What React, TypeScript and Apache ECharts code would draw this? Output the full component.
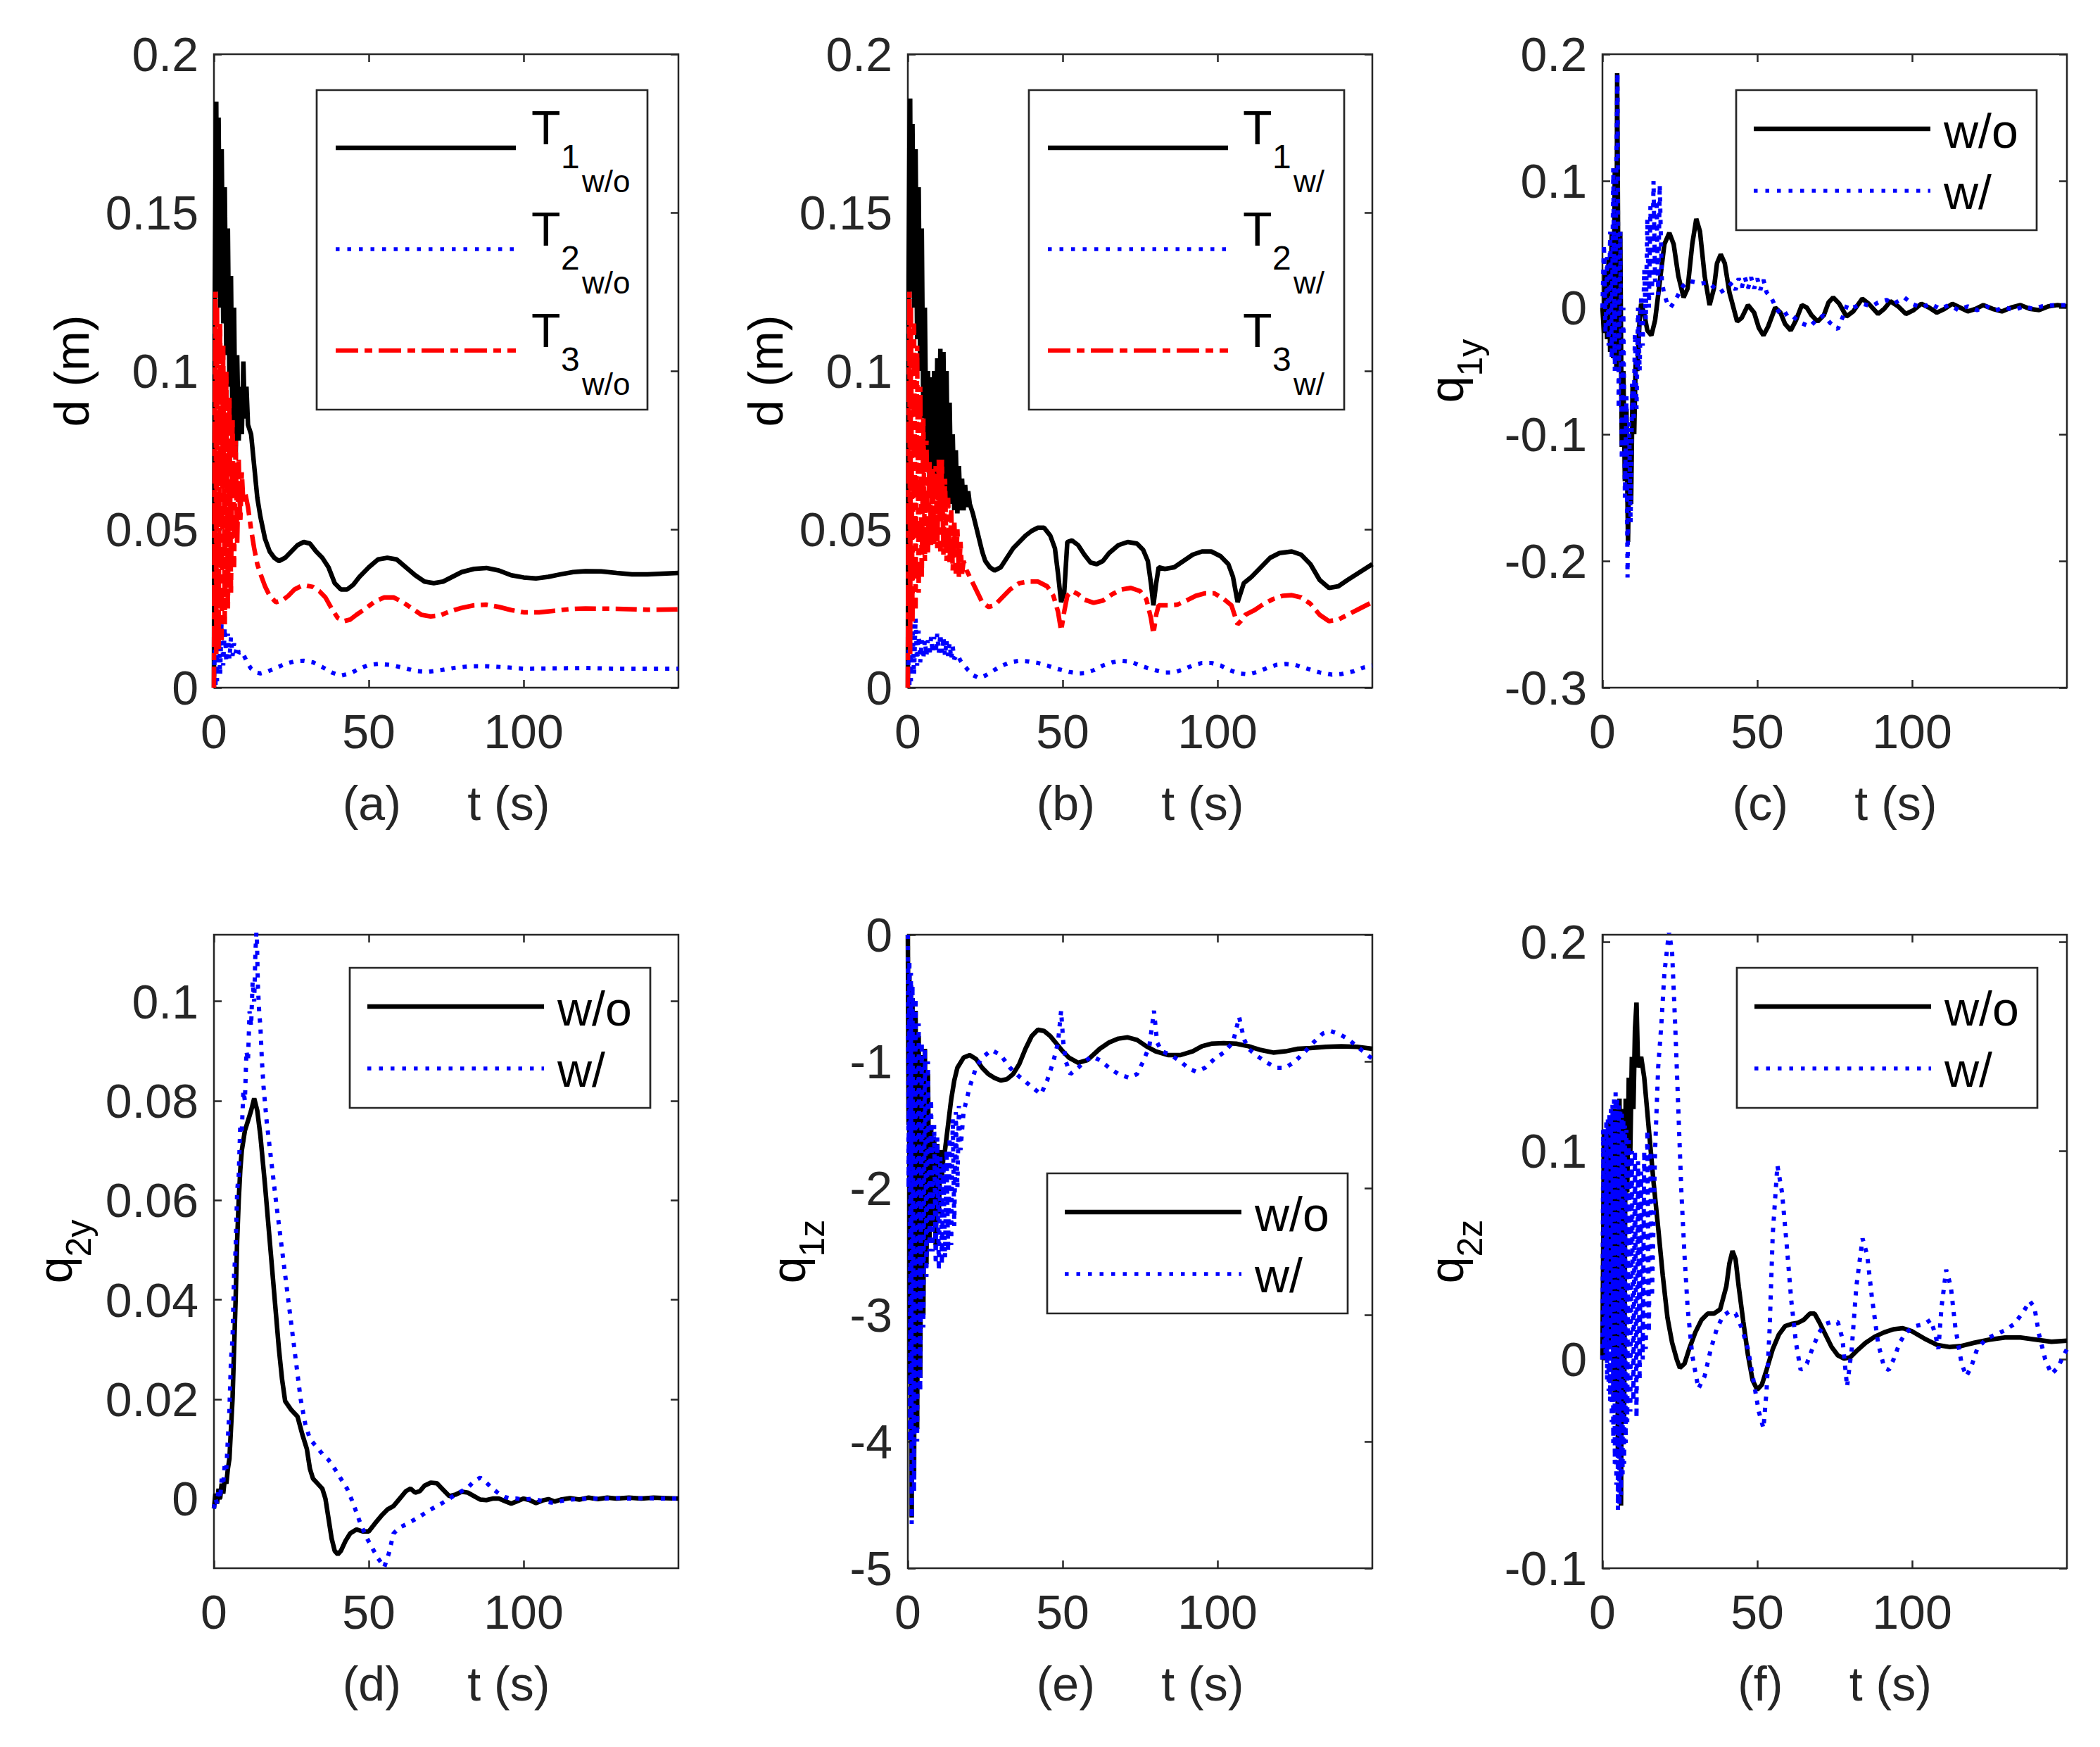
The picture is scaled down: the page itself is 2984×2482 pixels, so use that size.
import React, { useEffect, useRef } from "react";
import * as echarts from "echarts";

const FONT = '"Liberation Sans", Arial, Helvetica, sans-serif';
const INK = "#262626";
const BLACK = "#000000";
const BLUE = "#0000ff";
const RED = "#ff0000";

// ---------- axes ----------
const tRange = [0, 150];
const xTicks = [0, 50, 100];
const xTickLabels = ["0", "50", "100"];

const yRangeAB = [0, 0.2];
const yTicksAB = [0, 0.05, 0.1, 0.15, 0.2];
const yTickLabelsAB = ["0", "0.05", "0.1", "0.15", "0.2"];

const yRangeC = [-0.3, 0.2];
const yTicksC = [-0.3, -0.2, -0.1, 0, 0.1, 0.2];
const yTickLabelsC = ["-0.3", "-0.2", "-0.1", "0", "0.1", "0.2"];

const yRangeD = [-0.014, 0.1134];
const yTicksD = [0, 0.02, 0.04, 0.06, 0.08, 0.1];
const yTickLabelsD = ["0", "0.02", "0.04", "0.06", "0.08", "0.1"];

const yRangeE = [-5, 0];
const yTicksE = [-5, -4, -3, -2, -1, 0];
const yTickLabelsE = ["-5", "-4", "-3", "-2", "-1", "0"];

const yRangeF = [-0.1, 0.2035];
const yTicksF = [-0.1, 0, 0.1, 0.2];
const yTickLabelsF = ["-0.1", "0", "0.1", "0.2"];

const xNames = ["(a)     t (s)", "(b)     t (s)", "(c)     t (s)", "(d)     t (s)", "(e)     t (s)", "(f)     t (s)"];

// ---------- data: panel (a) ----------
const aT1 = [[0,0],[0.25,0.12],[0.5,0.16],[0.75,0.185],[1,0.125],[1.5,0.18],[2,0.12],[2.5,0.17],[3,0.115],[3.5,0.158],[4,0.105],[4.5,0.145],[5,0.095],[5.5,0.13],[6,0.08],[6.5,0.12],[7,0.072],[7.5,0.105],[8,0.078],[8.5,0.095],[9,0.08],[9.5,0.103],[10,0.085],[10.5,0.095],[11,0.083],[12,0.08],[13,0.07],[14,0.06],[15,0.054],[16.5,0.047],[18,0.043],[19.5,0.041],[21,0.04],[23,0.041],[25,0.043],[27,0.045],[29,0.046],[31,0.0455],[33,0.043],[35,0.041],[37,0.038],[39,0.033],[41,0.031],[43,0.031],[45,0.0325],[47,0.035],[50,0.038],[53,0.0405],[56,0.041],[59,0.0405],[62,0.038],[65,0.0355],[68,0.0335],[71,0.033],[74,0.0335],[77,0.035],[80,0.0365],[84,0.0375],[88,0.0378],[92,0.037],[96,0.0355],[100,0.0348],[104,0.0345],[108,0.035],[112,0.0358],[116,0.0365],[120,0.0368],[125,0.0367],[130,0.0362],[135,0.0358],[140,0.0358],[145,0.036],[150,0.0362]];
const aT2 = [[0,0],[0.25,0.012],[0.5,0.0],[0.75,0.018],[1,0.002],[1.5,0.02],[2,0.004],[2.5,0.022],[3,0.007],[3.5,0.019],[4,0.008],[4.5,0.017],[5,0.009],[5.5,0.016],[6,0.01],[6.5,0.014],[7,0.011],[7.5,0.013],[8,0.011],[9,0.0115],[10,0.0095],[11,0.0075],[12,0.006],[13.5,0.0048],[15,0.0045],[17,0.005],[20,0.0062],[23,0.0075],[26,0.0083],[29,0.0085],[32,0.008],[35,0.0065],[38,0.0048],[41,0.0038],[44,0.0045],[47,0.006],[50,0.0072],[53,0.0075],[57,0.0072],[61,0.0063],[65,0.0053],[69,0.005],[73,0.0055],[78,0.0063],[83,0.0068],[88,0.0068],[93,0.0065],[100,0.006],[110,0.0061],[120,0.0062],[130,0.006],[140,0.006],[150,0.006]];
const aT3 = [[0,0],[0.25,0.08],[0.5,0.125],[0.75,0.01],[1,0.12],[1.5,0.012],[2,0.115],[2.5,0.015],[3,0.108],[3.5,0.02],[4,0.1],[4.5,0.025],[5,0.092],[5.5,0.03],[6,0.085],[6.5,0.038],[7,0.078],[7.5,0.045],[8,0.072],[8.5,0.052],[9,0.068],[9.5,0.058],[10,0.062],[11,0.057],[12,0.05],[13,0.044],[14,0.039],[15,0.036],[16.5,0.032],[18,0.029],[20,0.027],[22,0.0275],[24,0.029],[26,0.031],[28,0.032],[30,0.0322],[32,0.0318],[34,0.0305],[36,0.0285],[38,0.025],[40,0.022],[42,0.021],[44,0.0215],[46,0.023],[49,0.025],[52,0.0272],[55,0.0285],[58,0.0285],[61,0.027],[64,0.025],[67,0.023],[70,0.0225],[73,0.0228],[76,0.024],[80,0.0252],[84,0.026],[88,0.0262],[92,0.0255],[96,0.0245],[100,0.0238],[105,0.0238],[110,0.0243],[115,0.0248],[120,0.025],[130,0.0249],[140,0.0246],[150,0.0247]];

// ---------- data: panel (b) ----------
const bT1 = [[0,0],[0.25,0.13],[0.5,0.17],[0.75,0.186],[1,0.125],[1.5,0.178],[2,0.12],[2.5,0.17],[3,0.11],[3.5,0.158],[4,0.1],[4.5,0.145],[5,0.085],[5.5,0.12],[6,0.072],[6.5,0.1],[7,0.065],[7.5,0.098],[8,0.062],[8.5,0.1],[9,0.06],[9.5,0.104],[10,0.062],[10.5,0.107],[11,0.06],[11.5,0.106],[12,0.062],[12.5,0.1],[13,0.058],[13.5,0.09],[14,0.058],[14.5,0.08],[15,0.056],[15.5,0.075],[16,0.055],[16.5,0.07],[17,0.056],[17.5,0.066],[18,0.056],[18.5,0.064],[19,0.057],[19.5,0.062],[20,0.058],[21,0.055],[22,0.051],[23,0.047],[24,0.043],[25,0.04],[26.5,0.038],[28,0.037],[30,0.038],[32,0.041],[34,0.044],[36,0.046],[38,0.048],[40,0.0495],[42,0.0505],[44,0.0505],[46,0.048],[47.5,0.044],[48.5,0.036],[49.5,0.027],[50.5,0.03],[51.5,0.046],[53,0.0465],[55,0.045],[57,0.042],[59,0.0395],[61,0.039],[63,0.04],[65,0.0425],[68,0.045],[71,0.046],[74,0.0455],[76,0.0435],[77.5,0.04],[78.5,0.033],[79.3,0.026],[80.2,0.033],[81,0.038],[83,0.0375],[86,0.038],[89,0.04],[92,0.042],[95,0.043],[98,0.043],[101,0.0415],[103.5,0.039],[105,0.035],[106.5,0.027],[107.5,0.03],[108.5,0.033],[111,0.035],[114,0.038],[117,0.041],[120,0.0425],[124,0.043],[127,0.042],[130,0.039],[133,0.034],[136,0.0315],[139,0.032],[142,0.034],[146,0.0365],[150,0.039]];
const bT2 = [[0,0],[0.25,0.012],[0.5,0.0],[0.75,0.018],[1,0.002],[1.5,0.02],[2,0.004],[2.5,0.022],[3,0.007],[3.5,0.018],[4,0.008],[4.5,0.015],[5,0.009],[5.5,0.015],[6,0.01],[6.5,0.015],[7,0.01],[7.5,0.016],[8,0.011],[8.5,0.016],[9,0.011],[9.5,0.017],[10,0.011],[10.5,0.017],[11,0.011],[11.5,0.016],[12,0.01],[12.5,0.015],[13,0.01],[13.5,0.014],[14,0.009],[14.5,0.013],[15,0.009],[16,0.0105],[17,0.0085],[18,0.0072],[19.5,0.0055],[21,0.004],[23,0.003],[25,0.0038],[27,0.005],[30,0.0068],[33,0.008],[36,0.0085],[39,0.0083],[42,0.0078],[45,0.007],[48,0.006],[50,0.0055],[52,0.005],[55,0.0045],[57,0.0046],[60,0.0055],[63,0.007],[66,0.008],[69,0.0085],[72,0.0082],[75,0.007],[78,0.006],[80,0.0055],[83,0.0048],[86,0.0048],[89,0.0058],[92,0.007],[95,0.0078],[98,0.0078],[101,0.007],[104,0.0055],[107,0.0045],[110,0.0042],[113,0.005],[116,0.0062],[119,0.0072],[122,0.0075],[125,0.0072],[129,0.006],[133,0.0048],[137,0.0041],[140,0.0043],[144,0.0052],[147,0.0063],[150,0.007]];
const bT3 = [[0,0],[0.25,0.08],[0.5,0.125],[0.75,0.01],[1,0.12],[1.5,0.02],[2,0.115],[2.5,0.025],[3,0.108],[3.5,0.03],[4,0.095],[4.5,0.035],[5,0.085],[5.5,0.04],[6,0.078],[6.5,0.042],[7,0.072],[7.5,0.045],[8,0.07],[8.5,0.045],[9,0.07],[9.5,0.044],[10,0.072],[10.5,0.043],[11,0.072],[11.5,0.042],[12,0.066],[12.5,0.04],[13,0.06],[13.5,0.039],[14,0.056],[14.5,0.037],[15,0.053],[15.5,0.036],[16,0.05],[16.5,0.035],[17,0.046],[17.5,0.036],[18,0.04],[19,0.037],[20,0.035],[21,0.033],[22.5,0.03],[24,0.027],[26,0.0255],[28,0.026],[30,0.028],[33,0.031],[36,0.033],[39,0.0335],[42,0.0335],[45,0.032],[47,0.029],[48.5,0.024],[49.5,0.018],[50.5,0.024],[51.5,0.029],[53,0.0305],[55,0.0295],[57,0.0278],[60,0.0268],[63,0.0275],[66,0.0295],[69,0.031],[72,0.0315],[75,0.0305],[77,0.028],[78.5,0.022],[79.3,0.017],[80.2,0.023],[81,0.026],[84,0.026],[87,0.0262],[90,0.0275],[93,0.029],[96,0.0298],[99,0.0298],[102,0.028],[104.5,0.026],[106.5,0.02],[107.5,0.021],[109,0.023],[112,0.0245],[115,0.0265],[118,0.028],[121,0.029],[124,0.0292],[127,0.0285],[130,0.0265],[133,0.023],[136,0.021],[139,0.0215],[142,0.023],[146,0.025],[150,0.027]];

// ---------- data: panel (c) q1y ----------
const cWo = [[0,0],[0.5,-0.02],[1,0.03],[1.5,-0.025],[2,0.04],[2.5,-0.035],[3,0.06],[3.5,-0.04],[4,0.11],[4.5,-0.05],[4.75,0.185],[5.25,-0.03],[5.75,0.06],[6.25,-0.11],[6.75,-0.05],[7.25,-0.137],[7.75,-0.08],[8.25,-0.185],[8.75,-0.1],[9.25,-0.155],[9.75,-0.06],[10.25,-0.1],[10.75,-0.04],[11.25,-0.05],[12,-0.01],[12.5,0.003],[13.5,-0.005],[14.5,-0.018],[15.8,-0.022],[17,-0.01],[18.5,0.02],[20,0.05],[21.6,0.059],[23,0.05],[24.5,0.025],[26.2,0.008],[27.5,0.015],[29,0.05],[30.3,0.07],[31.5,0.06],[33,0.025],[34.6,0.002],[36,0.015],[37,0.035],[38.2,0.042],[39.5,0.035],[41,0.012],[43.5,-0.011],[45,-0.008],[47,0.002],[49,-0.004],[50.5,-0.016],[52,-0.022],[53.5,-0.015],[55.8,0.0],[57.5,-0.004],[59,-0.013],[60.8,-0.018],[62.5,-0.01],[64.4,0.002],[66,0.0],[67.5,-0.006],[69.5,-0.011],[71.5,-0.006],[73,0.004],[74.5,0.008],[76.5,0.003],[78.8,-0.007],[81,-0.003],[83.9,0.007],[86,0.003],[89,-0.005],[91,-0.001],[93,0.005],[95.5,0.001],[98,-0.005],[100.5,-0.002],[103,0.003],[105.5,0.0],[108,-0.004],[110.5,-0.001],[113,0.003],[115.5,0.0],[118,-0.003],[120.5,-0.001],[123,0.002],[126,-0.001],[129,-0.003],[132,0.0],[135,0.002],[138,-0.001],[141,-0.002],[144,0.001],[147,0.002],[150,0.001]];
const cW = [[0,0],[0.5,0.05],[1,-0.02],[1.5,0.04],[2,-0.03],[2.5,0.06],[3,-0.04],[3.5,0.11],[4,-0.05],[4.5,0.12],[4.85,0.185],[5.25,-0.08],[5.75,0.06],[6.25,-0.12],[6.75,0.0],[7.25,-0.15],[7.75,-0.07],[8.1,-0.213],[8.6,-0.09],[9.1,-0.17],[9.6,-0.06],[10.1,-0.09],[10.5,-0.02],[11,-0.08],[11.5,0.0],[12,-0.05],[12.5,0.01],[13,-0.03],[13.5,0.03],[14,-0.01],[14.5,0.07],[15,0.0],[15.5,0.08],[16,0.01],[16.5,0.1],[17,0.02],[17.5,0.085],[18,0.01],[18.5,0.097],[19.2,0.02],[20,0.01],[21,0.003],[22,0.0],[24,0.008],[26,0.017],[28,0.021],[30,0.02],[32,0.019],[34,0.02],[36,0.016],[38,0.012],[40,0.015],[42,0.02],[43,0.014],[44,0.023],[45,0.016],[46,0.024],[47,0.015],[48,0.024],[49,0.015],[50,0.023],[51,0.014],[52,0.022],[53,0.012],[54.5,0.008],[56,0.0],[58,-0.007],[60,-0.004],[62,-0.008],[64,-0.012],[67,-0.015],[69,-0.01],[71.5,-0.006],[73.5,-0.012],[76,-0.017],[78,-0.005],[79,0.002],[81,0.0],[84,0.003],[87,0.001],[89,0.004],[91.8,0.006],[94,0.003],[97.5,0.008],[100,0.003],[103,0.0],[106,0.003],[109,-0.001],[112,0.002],[115,-0.002],[118,0.001],[121,-0.002],[124,0.001],[127,-0.002],[130,0.0],[133,-0.002],[136,0.001],[139,-0.001],[142,0.001],[146,0.002],[150,0.002]];

// ---------- data: panel (d) q2y ----------
const dWo = [[0,-0.002],[0.5,0.001],[1,-0.001],[1.5,0.002],[2,0.0],[2.5,0.003],[3,0.001],[3.5,0.004],[4,0.003],[4.5,0.006],[5,0.008],[5.5,0.014],[6,0.02],[6.5,0.03],[7,0.04],[7.5,0.052],[8,0.06],[8.5,0.066],[9,0.07],[9.5,0.072],[10,0.074],[11,0.076],[12,0.078],[13,0.0805],[14,0.078],[15,0.073],[16.5,0.063],[18,0.052],[19.5,0.041],[21,0.03],[22,0.024],[23,0.0196],[25,0.0178],[27,0.0165],[28.5,0.013],[30,0.01],[31,0.006],[32,0.004],[33.5,0.003],[35,0.002],[36,0.0],[37,-0.004],[38,-0.008],[39,-0.0105],[40,-0.0112],[41,-0.0105],[42.5,-0.0085],[44,-0.007],[46,-0.0062],[48,-0.0066],[50,-0.0066],[52,-0.005],[54,-0.0035],[56,-0.0022],[58,-0.0015],[60,0.0],[62,0.0015],[63.5,0.002],[65,0.0012],[66.5,0.0015],[68,0.0026],[70,0.0032],[72,0.0031],[74,0.0018],[76,0.0005],[78,0.0008],[80,0.0014],[82,0.0012],[84,0.0005],[86,-0.0002],[88,-0.0003],[90,0.0],[92,0.0],[94,-0.0005],[96,-0.001],[98,-0.0005],[100,0.0],[102,-0.0003],[104,-0.0009],[106,-0.0004],[108,-0.0001],[110,-0.0006],[112,-0.0002],[115,0.0001],[118,-0.0002],[121,0.0002],[124,-0.0001],[127,0.0002],[130,0.0],[134,0.0002],[138,0.0],[142,0.0002],[146,0.0001],[150,0.0]];
const dW = [[0,-0.002],[0.5,0.0],[1,-0.001],[1.5,0.002],[2,0.0],[2.5,0.004],[3,0.003],[3.5,0.007],[4,0.006],[4.5,0.012],[5,0.018],[5.5,0.028],[6,0.032],[6.5,0.045],[7,0.05],[7.5,0.062],[8,0.065],[8.5,0.075],[9,0.074],[9.5,0.082],[10,0.08],[10.5,0.09],[11,0.088],[11.5,0.098],[12,0.095],[12.5,0.104],[13,0.1],[13.4,0.11],[13.8,0.115],[14.2,0.103],[14.6,0.098],[15,0.095],[15.5,0.088],[16,0.083],[17,0.076],[18.5,0.068],[20,0.06],[22,0.05],[24,0.04],[26,0.03],[28,0.02],[29.5,0.015],[31,0.012],[33,0.0105],[35,0.009],[37,0.0078],[39,0.006],[41,0.004],[43,0.002],[45,-0.001],[47,-0.0045],[49,-0.0075],[51,-0.0098],[53,-0.012],[55,-0.0138],[56.5,-0.011],[58,-0.007],[60,-0.0058],[62,-0.0052],[64,-0.0045],[66,-0.0038],[68,-0.003],[70,-0.0022],[72,-0.0015],[74,-0.0008],[76,0.0],[78,0.0008],[80,0.0015],[82,0.0022],[84,0.0035],[86,0.0042],[88,0.0032],[90,0.002],[92,0.001],[94,0.0003],[96,0.0],[98,0.0],[100,-0.0002],[103,0.0],[106,-0.0005],[109,-0.0008],[112,-0.0005],[115,-0.0002],[118,-0.0001],[121,0.0],[125,0.0],[130,0.0001],[135,0.0],[140,0.0001],[145,0.0],[150,0.0]];

// ---------- data: panel (e) q1z ----------
const eWo = [[0,0],[0.25,-1.5],[0.5,-0.3],[0.75,-3.5],[1,-0.4],[1.25,-4.6],[1.5,-0.5],[2,-4.3],[2.5,-0.6],[3,-3.9],[3.5,-0.8],[4,-3.5],[4.5,-0.95],[5,-3.0],[5.5,-0.9],[6,-2.6],[6.5,-1.1],[7,-2.4],[7.5,-1.5],[8,-2.3],[8.5,-1.6],[9,-2.45],[9.5,-1.65],[10,-2.2],[10.5,-1.7],[11,-1.9],[11.5,-1.75],[12,-1.7],[13,-1.5],[14,-1.3],[15,-1.15],[16,-1.05],[18,-0.97],[20,-0.95],[22,-0.98],[24,-1.05],[26,-1.1],[28,-1.13],[30,-1.15],[32,-1.14],[34,-1.1],[36,-1.02],[38,-0.9],[40,-0.8],[42,-0.75],[44,-0.76],[46,-0.8],[48,-0.86],[50,-0.92],[52,-0.97],[55,-1.01],[58,-0.99],[62,-0.9],[65,-0.85],[68,-0.82],[71,-0.81],[74,-0.83],[77,-0.88],[80,-0.92],[84,-0.95],[88,-0.95],[92,-0.92],[95,-0.88],[98,-0.86],[102,-0.855],[106,-0.86],[110,-0.88],[114,-0.91],[118,-0.93],[122,-0.92],[126,-0.9],[130,-0.895],[135,-0.885],[140,-0.88],[145,-0.885],[150,-0.9]];
const eW = [[0,0],[0.25,-2.0],[0.5,-0.2],[0.75,-4.0],[1,-0.3],[1.25,-4.65],[1.5,-0.4],[2,-4.4],[2.5,-0.5],[3,-4.0],[3.5,-0.7],[4,-3.6],[4.5,-0.85],[5,-3.1],[5.5,-0.9],[6,-2.7],[6.5,-1.0],[7,-2.5],[7.5,-1.3],[8,-2.5],[8.5,-1.5],[9,-2.6],[9.5,-1.6],[10,-2.65],[10.5,-1.75],[11,-2.6],[11.5,-1.8],[12,-2.55],[12.5,-1.7],[13,-2.5],[13.5,-1.6],[14,-2.45],[14.5,-1.45],[15,-2.3],[15.5,-1.4],[16,-2.0],[16.5,-1.35],[17,-1.7],[18,-1.4],[19,-1.3],[20,-1.2],[22,-1.05],[24,-0.97],[27,-0.91],[30,-0.95],[33,-1.05],[36,-1.12],[39,-1.18],[41,-1.22],[43,-1.26],[45,-1.15],[47,-1.0],[48.5,-0.85],[49.5,-0.6],[50.2,-0.85],[51,-1.0],[52.5,-1.1],[55,-1.05],[57,-1.0],[59.5,-0.96],[62,-0.99],[65,-1.05],[68,-1.1],[71.5,-1.13],[74,-1.1],[76,-1.0],[78,-0.88],[79.5,-0.6],[80.5,-0.85],[82,-0.92],[85,-0.95],[88,-1.0],[91,-1.06],[93,-1.08],[96,-1.05],[99,-0.98],[102,-0.93],[105,-0.85],[107,-0.65],[108.5,-0.82],[110,-0.9],[113,-0.96],[116,-1.01],[119,-1.05],[122,-1.05],[125,-1.0],[128,-0.93],[131,-0.85],[134,-0.78],[136.5,-0.76],[139,-0.78],[142,-0.82],[145,-0.88],[148,-0.94],[150,-0.98]];

// ---------- data: panel (f) q2z ----------
const fWo = [[0,0.0],[0.5,0.11],[1,0.0],[1.5,0.11],[2,0.005],[2.5,0.115],[3,0.01],[3.5,0.12],[4,-0.02],[4.5,0.12],[5,-0.045],[5.5,0.125],[6,-0.07],[6.5,0.12],[7,-0.03],[7.5,0.125],[8,0.08],[8.5,0.135],[9,0.1],[9.5,0.145],[10,0.12],[10.5,0.158],[11,0.171],[11.5,0.14],[12.5,0.145],[13.5,0.135],[15,0.11],[16.5,0.085],[18,0.063],[19.5,0.04],[21,0.02],[22.5,0.008],[24,0.0],[25,-0.004],[26.5,-0.002],[28,0.005],[30,0.013],[32,0.019],[34,0.022],[36,0.022],[38,0.024],[40,0.035],[41,0.046],[42,0.052],[43,0.048],[44,0.035],[45.5,0.018],[47,0.002],[48.5,-0.01],[50,-0.0145],[51.5,-0.012],[53,-0.005],[55,0.005],[57,0.012],[59,0.016],[61,0.017],[63,0.0175],[65,0.019],[67,0.022],[68.5,0.022],[70,0.018],[72,0.012],[74,0.006],[76,0.002],[78,0.0005],[80,0.001],[82,0.004],[85,0.008],[88,0.011],[91,0.013],[94,0.0145],[97,0.015],[100,0.0135],[104,0.01],[108,0.007],[112,0.006],[116,0.0065],[120,0.008],[125,0.0095],[130,0.0105],[135,0.0105],[140,0.0095],[145,0.0085],[150,0.009]];
const fW = [[0,0.0],[0.25,0.11],[0.5,0.005],[0.75,0.112],[1,0.0],[1.25,0.115],[1.5,-0.01],[1.75,0.115],[2,-0.015],[2.25,0.118],[2.5,-0.02],[2.75,0.12],[3,-0.03],[3.25,0.122],[3.5,-0.04],[3.75,0.125],[4,-0.05],[4.25,0.128],[4.5,-0.06],[4.75,0.125],[5,-0.072],[5.25,0.122],[5.5,-0.07],[5.75,0.12],[6,-0.065],[6.25,0.118],[6.5,-0.055],[6.75,0.115],[7,-0.05],[7.25,0.112],[7.5,-0.04],[7.75,0.11],[8,-0.03],[8.5,0.105],[9,-0.025],[9.5,0.1],[10,-0.02],[10.5,0.1],[11,-0.028],[11.5,0.095],[12,-0.01],[12.5,0.09],[13,0.0],[13.5,0.1],[14,0.005],[14.5,0.11],[15,0.013],[15.5,0.1],[16,0.03],[17,0.1],[18,0.14],[19,0.16],[20,0.185],[21.5,0.205],[22.5,0.195],[23.5,0.16],[24.5,0.12],[25.5,0.08],[26.5,0.05],[27.5,0.025],[29,0.002],[31,-0.014],[33,-0.008],[35,0.005],[37,0.015],[39,0.021],[41,0.023],[43,0.022],[45,0.015],[47,0.005],[49,-0.012],[50.5,-0.025],[52,-0.033],[53,-0.015],[54,0.015],[55,0.06],[56.5,0.093],[58,0.08],[59.5,0.055],[61,0.028],[62.5,0.008],[64,-0.005],[66,-0.002],[68,0.006],[70,0.013],[72,0.017],[74,0.018],[76,0.018],[77.5,0.01],[79,-0.013],[80.5,0.005],[82,0.035],[84,0.058],[85.5,0.05],[87,0.03],[89,0.008],[91,-0.004],[92.5,-0.005],[94,0.0],[96,0.008],[98,0.013],[101,0.016],[104,0.017],[106,0.019],[107.5,0.012],[108.5,0.005],[109.5,0.025],[111,0.043],[112.5,0.035],[114,0.015],[116,-0.002],[117.5,-0.008],[119,-0.004],[121,0.005],[124,0.01],[127,0.012],[130,0.014],[133,0.017],[136,0.023],[138,0.028],[139.5,0.025],[141,0.012],[143,0.0],[145,-0.007],[147,-0.004],[150,0.005]];

// ---------- legend labels ----------
const legendSubA = ["w/o", "w/o", "w/o"];
const legendSubB = ["w/", "w/", "w/"];
const legendIdx = ["1", "2", "3"];
const legendWLabels = ["w/o", "w/"];

// ---------- layout (positions / styles) ----------
const COL_LEFT = [304, 1290, 2277];
const ROW_TOP = [77, 1328];
const GW = 660;
const GH = 900;

const STYLE_SOLID = { color: BLACK, width: 6.5, type: "solid" as any };
const STYLE_DOT = { color: BLUE, width: 6, type: [6, 10] as any, cap: "butt" as any };
const STYLE_DASHDOT = { color: RED, width: 6.5, type: [30, 9, 10, 9] as any, cap: "butt" as any };

type Panel = {
  col: number;
  row: number;
  yRange: number[];
  yTicks: number[];
  yLabels: string[];
  series: { data: number[][]; style: any; name: string }[];
};

const panels: Panel[] = [
  { col: 0, row: 0, yRange: yRangeAB, yTicks: yTicksAB, yLabels: yTickLabelsAB,
    series: [ { data: aT1, style: STYLE_SOLID, name: "T1 w/o" }, { data: aT2, style: STYLE_DOT, name: "T2 w/o" }, { data: aT3, style: STYLE_DASHDOT, name: "T3 w/o" } ] },
  { col: 1, row: 0, yRange: yRangeAB, yTicks: yTicksAB, yLabels: yTickLabelsAB,
    series: [ { data: bT1, style: STYLE_SOLID, name: "T1 w/" }, { data: bT2, style: STYLE_DOT, name: "T2 w/" }, { data: bT3, style: STYLE_DASHDOT, name: "T3 w/" } ] },
  { col: 2, row: 0, yRange: yRangeC, yTicks: yTicksC, yLabels: yTickLabelsC,
    series: [ { data: cWo, style: STYLE_SOLID, name: "q1y w/o" }, { data: cW, style: STYLE_DOT, name: "q1y w/" } ] },
  { col: 0, row: 1, yRange: yRangeD, yTicks: yTicksD, yLabels: yTickLabelsD,
    series: [ { data: dWo, style: STYLE_SOLID, name: "q2y w/o" }, { data: dW, style: STYLE_DOT, name: "q2y w/" } ] },
  { col: 1, row: 1, yRange: yRangeE, yTicks: yTicksE, yLabels: yTickLabelsE,
    series: [ { data: eWo, style: STYLE_SOLID, name: "q1z w/o" }, { data: eW, style: STYLE_DOT, name: "q1z w/" } ] },
  { col: 2, row: 1, yRange: yRangeF, yTicks: yTicksF, yLabels: yTickLabelsF,
    series: [ { data: fWo, style: STYLE_SOLID, name: "q2z w/o" }, { data: fW, style: STYLE_DOT, name: "q2z w/" } ] },
];

const labelFmt = (ticks: number[], labels: string[]) => (v: number) => {
  const i = ticks.findIndex((t) => Math.abs(t - v) < 1e-9);
  return i >= 0 ? labels[i] : "";
};

function txt(x: number, y: number, text: string, fontSize: number, align = "left") {
  return {
    type: "text",
    x,
    y,
    z: 102,
    style: {
      text,
      fontSize,
      fontFamily: FONT,
      fill: BLACK,
      textAlign: align,
      align,
      textVerticalAlign: "middle",
      verticalAlign: "middle",
    },
  };
}

function legendBox(x: number, y: number, w: number, h: number) {
  return {
    type: "rect",
    z: 100,
    shape: { x, y, width: w, height: h },
    style: { fill: "#ffffff", stroke: INK, lineWidth: 2.7 },
  };
}

function legendLine(x1: number, x2: number, y: number, color: string, width: number, dash: any) {
  return {
    type: "line",
    z: 101,
    shape: { x1, y1: y, x2, y2: y },
    style: { stroke: color, lineWidth: width, lineDash: dash, lineCap: "butt" },
  };
}

// T-legend (panels a, b)
function tLegend(box: number[], lx1: number, lx2: number, tx: number, subs: string[]) {
  const els: any[] = [legendBox(box[0], box[1], box[2], box[3])];
  const baselines = [205, 349, 493];
  const lineStyles = [
    { c: BLACK, w: 6.5, d: null },
    { c: BLUE, w: 5.5, d: [5.5, 11] },
    { c: RED, w: 6, d: [32, 9, 11, 9] },
  ];
  baselines.forEach((b, i) => {
    const ls = lineStyles[i];
    els.push(legendLine(lx1, lx2, b + 5, ls.c, ls.w, ls.d));
    els.push(txt(tx, b - 0.3465 * 68, "T", 68));
    els.push(txt(tx + 42, b + 34 - 0.3465 * 48, legendIdx[i], 48));
    els.push(txt(tx + 72, b + 68 - 0.3465 * 44, subs[i], 44));
  });
  return els;
}

// w/o, w/ legend (panels c-f)
function wLegend(x: number, y: number) {
  return [
    legendBox(x, y, 427, 199),
    legendLine(x + 25, x + 276, y + 55, BLACK, 6.5, null),
    legendLine(x + 25, x + 276, y + 143, BLUE, 5.5, [5.5, 11]),
    txt(x + 295, y + 82 - 0.3465 * 68, legendWLabels[0], 68),
    txt(x + 295, y + 169 - 0.3465 * 68, legendWLabels[1], 68),
  ];
}

// rotated y-axis label with optional subscript
function yLabel(cx: number, cy: number, main: string, sub?: string) {
  const children: any[] = [];
  if (!sub) {
    children.push(txt(0, 0, main, 68, "center"));
  } else {
    const wMain = 0.556 * 68;
    const wSub = 1.056 * 50;
    const left = -(wMain + wSub) / 2;
    children.push(txt(left, 0, main, 68));
    children.push(txt(left + wMain, 0.3465 * 68 + 28 - 0.3465 * 50, sub, 50));
  }
  return { type: "group", x: cx, y: cy, rotation: Math.PI / 2, z: 102, children };
}

export default function App() {
  const ref = useRef<HTMLDivElement>(null);

  useEffect(() => {
    document.body.style.margin = "0";
    if (!ref.current) return;
    const chart = echarts.init(ref.current, null, { renderer: "svg" });

    const grid: any[] = [];
    const xAxis: any[] = [];
    const yAxis: any[] = [];
    const series: any[] = [];

    const tickStyle = { color: INK, width: 2.5 };

    panels.forEach((p, i) => {
      grid.push({
        left: COL_LEFT[p.col],
        top: ROW_TOP[p.row],
        width: GW,
        height: GH,
        show: true,
        borderColor: INK,
        borderWidth: 2.5,
        backgroundColor: "transparent",
        containLabel: false,
        outerBoundsMode: "none",
      });
      xAxis.push({
        type: "value",
        gridIndex: i,
        position: "bottom",
        min: tRange[0],
        max: tRange[1],
        axisLine: { show: false, onZero: false },
        splitLine: { show: false },
        axisTick: { show: true, inside: true, length: 11, customValues: xTicks, lineStyle: tickStyle },
        axisLabel: {
          show: true,
          customValues: xTicks,
          formatter: labelFmt(xTicks, xTickLabels),
          margin: 28,
          fontSize: 68,
          fontFamily: FONT,
          color: INK,
        },
        name: xNames[i],
        nameLocation: "middle",
        nameGap: 130,
        nameTextStyle: { fontSize: 68, fontFamily: FONT, color: INK },
      });
      xAxis.push({
        type: "value",
        gridIndex: i,
        position: "top",
        min: tRange[0],
        max: tRange[1],
        axisLine: { show: false, onZero: false },
        splitLine: { show: false },
        axisTick: { show: true, inside: true, length: 11, customValues: xTicks, lineStyle: tickStyle },
        axisLabel: { show: false },
      });
      yAxis.push({
        type: "value",
        gridIndex: i,
        position: "left",
        min: p.yRange[0],
        max: p.yRange[1],
        axisLine: { show: false, onZero: false },
        splitLine: { show: false },
        axisTick: { show: true, inside: true, length: 11, customValues: p.yTicks, lineStyle: tickStyle },
        axisLabel: {
          show: true,
          customValues: p.yTicks,
          formatter: labelFmt(p.yTicks, p.yLabels),
          margin: 22,
          fontSize: 68,
          fontFamily: FONT,
          color: INK,
        },
      });
      yAxis.push({
        type: "value",
        gridIndex: i,
        position: "right",
        min: p.yRange[0],
        max: p.yRange[1],
        axisLine: { show: false, onZero: false },
        splitLine: { show: false },
        axisTick: { show: true, inside: true, length: 11, customValues: p.yTicks, lineStyle: tickStyle },
        axisLabel: { show: false },
      });
      p.series.forEach((s, k) => {
        series.push({
          type: "line",
          name: s.name,
          xAxisIndex: 2 * i,
          yAxisIndex: 2 * i,
          data: s.data,
          showSymbol: false,
          symbol: "none",
          silent: true,
          clip: true,
          z: 2 + k,
          lineStyle: s.style,
        });
      });
    });

    const graphic: any[] = [
      ...tLegend([450, 128, 470, 454], 477, 733, 755, legendSubA),
      ...tLegend([1462, 128, 448, 454], 1489, 1745, 1766, legendSubB),
      ...wLegend(2467, 128),
      ...wLegend(497, 1375),
      ...wLegend(1488, 1667),
      ...wLegend(2468, 1375),
      yLabel(102, ROW_TOP[0] + GH / 2, "d (m)"),
      yLabel(1088, ROW_TOP[0] + GH / 2, "d (m)"),
      yLabel(2055, ROW_TOP[0] + GH / 2, "q", "1y"),
      yLabel(78, ROW_TOP[1] + GH / 2, "q", "2y"),
      yLabel(1120, ROW_TOP[1] + GH / 2, "q", "1z"),
      yLabel(2055, ROW_TOP[1] + GH / 2, "q", "2z"),
    ];

    chart.setOption({
      animation: false,
      backgroundColor: "#ffffff",
      textStyle: { fontFamily: FONT },
      grid,
      xAxis,
      yAxis,
      series,
      graphic,
    });

    return () => {
      chart.dispose();
    };
  }, []);

  return <div ref={ref} style={{ width: 2984, height: 2482 }} />;
}
